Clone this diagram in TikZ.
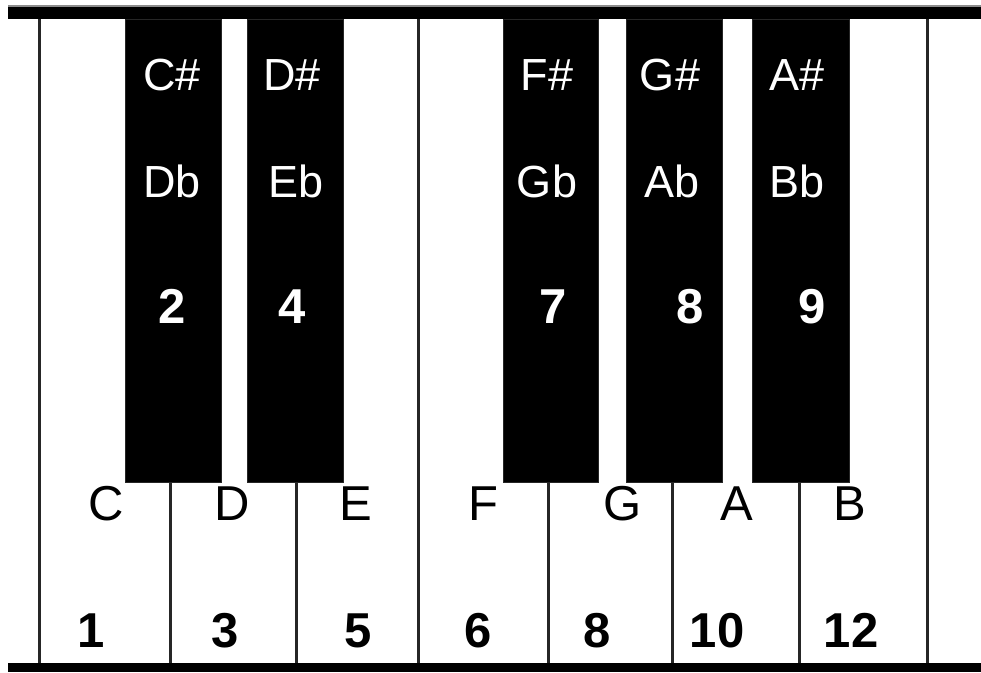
\documentclass[tikz,border=0pt]{standalone}
\usepackage{fontspec}
\setmainfont{Liberation Sans}
\begin{document}
\begin{tikzpicture}[x=1pt,y=-1pt,
  blackkey/.style={fill=black,draw=black!85,line width=1pt},
  divider/.style={draw=black!85,line width=3pt},
  bar/.style={fill=black},
  sharp/.style={text=white,font=\fontsize{45}{45}\selectfont,anchor=base,inner sep=0pt},
  bnum/.style={text=white,font=\fontsize{49}{49}\selectfont\bfseries,anchor=base,inner sep=0pt},
  wlet/.style={text=black,font=\fontsize{49}{49}\selectfont,anchor=base,inner sep=0pt},
  wnum/.style={text=black,font=\fontsize{49}{49}\selectfont\bfseries,anchor=base,inner sep=0pt}]
\useasboundingbox (0,0) rectangle (981,672);
\fill[white] (0,0) rectangle (981,672);
% white key dividers
\foreach \x in {39,418,927} \draw[divider] (\x,19) -- (\x,663);
\foreach \x in {170,296,548,672,799} \draw[divider] (\x,482) -- (\x,663);
% bars
\fill[black!45] (8,5) rectangle (981,7);
\fill[bar] (8,7) rectangle (981,19);
\fill[bar] (8,663) rectangle (981,672);
% black keys
\draw[blackkey] (125,19) rectangle (221,482);
\draw[blackkey] (247,19) rectangle (343,482);
\draw[blackkey] (503,19) rectangle (598,482);
\draw[blackkey] (626,19) rectangle (722,482);
\draw[blackkey] (752,19) rectangle (849,482);
% black key labels
\node[sharp] (cs) at (172,90) {C\#};
\node[sharp] (ds) at (292,90) {D\#};
\node[sharp] (fs) at (547,90) {F\#};
\node[sharp] (gs) at (670,90) {G\#};
\node[sharp] (as) at (797,90) {A\#};
\node[sharp] (db) at (172,197) {Db};
\node[sharp] (eb) at (296,197) {Eb};
\node[sharp] (gb) at (547,197) {Gb};
\node[sharp] (ab) at (672,197) {Ab};
\node[sharp] (bb) at (797,197) {Bb};
\node[bnum] (n2) at (172,323) {2};
\node[bnum] (n4) at (292,323) {4};
\node[bnum] (n7) at (553,323) {7};
\node[bnum] (n8b) at (690,323) {8};
\node[bnum] (n9) at (812,323) {9};
% white key labels
\node[wlet] (c) at (106,520) {C};
\node[wlet] (d) at (232,520) {D};
\node[wlet] (e) at (356,520) {E};
\node[wlet] (f) at (483,520) {F};
\node[wlet] (g) at (623,520) {G};
\node[wlet] (a) at (737,520) {A};
\node[wlet] (b) at (850,520) {B};
\node[wnum] (n1) at (91,647) {1};
\node[wnum] (n3) at (225,647) {3};
\node[wnum] (n5) at (358,647) {5};
\node[wnum] (n6) at (478,647) {6};
\node[wnum] (n8) at (597,647) {8};
\node[wnum] (n10) at (717,647) {10};
\node[wnum] (n12) at (851,647) {12};
\end{tikzpicture}
\end{document}
